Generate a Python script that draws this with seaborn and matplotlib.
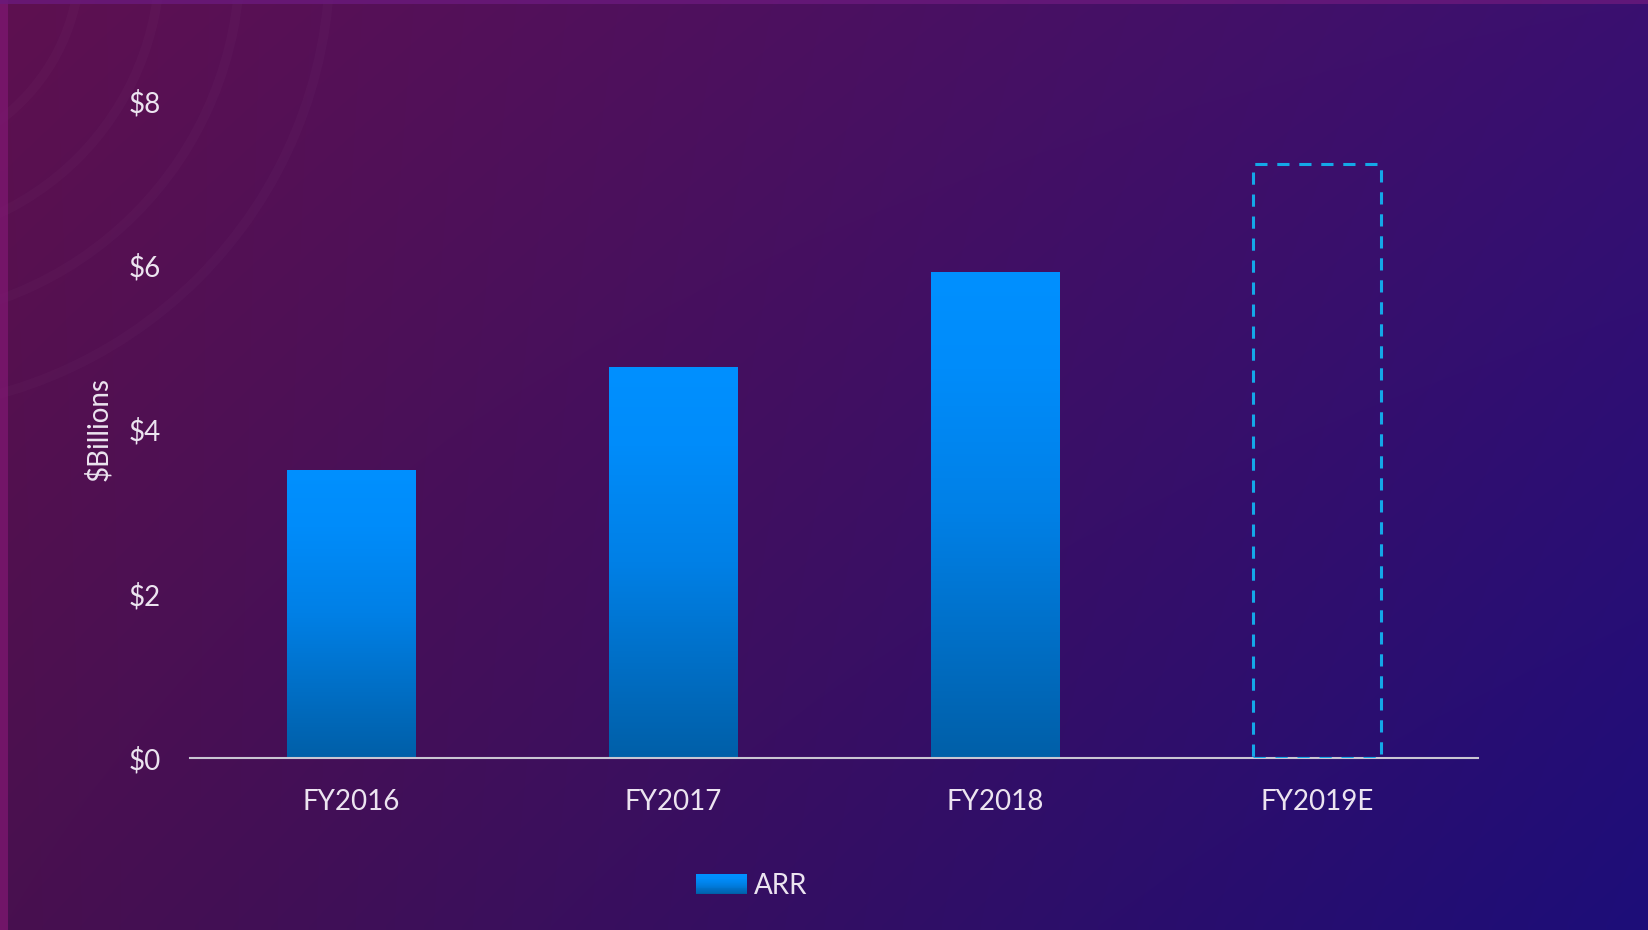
import numpy as np
import pandas as pd
import matplotlib
matplotlib.use("Agg")
import matplotlib.pyplot as plt
import seaborn as sns
from matplotlib.colors import LinearSegmentedColormap, to_rgb
from matplotlib.legend_handler import HandlerBase
from matplotlib.patches import Rectangle, Circle

# ---- data ----
years = ["FY2016", "FY2017", "FY2018", "FY2019E"]
arr_billions = [3.51, 4.76, 5.92, 7.23]
forecast = [False, False, False, True]
y_ticks = [0, 2, 4, 6, 8]
y_tick_labels = ["$0", "$2", "$4", "$6", "$8"]
series_name = "ARR"
y_title = "$Billions"

df = pd.DataFrame({"year": years, "arr": arr_billions, "forecast": forecast})

# ---- style ----
sns.set_theme(style="white")
plt.rcParams["font.family"] = ["Lato", "DejaVu Sans"]
TEXT = "#ece4f0"
W, H = 1649, 930
fig = plt.figure(figsize=(W / 100, H / 100), dpi=100)

# background: diagonal magenta -> indigo blend
tl, tr = np.array(to_rgb("#5e1150")), np.array(to_rgb("#3a1070"))
bl, br = np.array(to_rgb("#48104f")), np.array(to_rgb("#1d0d79"))
gy, gx = np.mgrid[0:1:120j, 0:1:200j]
bg = ((1 - gx) * (1 - gy))[..., None] * tl + (gx * (1 - gy))[..., None] * tr \
    + ((1 - gx) * gy)[..., None] * bl + (gx * gy)[..., None] * br
bg_ax = fig.add_axes([0, 0, 1, 1], zorder=-10)
bg_ax.imshow(bg, extent=[0, W, H, 0], aspect="auto", interpolation="bilinear")
# faint decorative rings in the upper-left corner
for r in [200, 280, 360, 450]:
    bg_ax.add_patch(Circle((-120, -40), r, fill=False, lw=7, ec="white", alpha=0.018))
# thin bright edges along the left and top
bg_ax.add_patch(Rectangle((0, 0), 8, H, color="#7c176f", lw=0, alpha=0.8))
bg_ax.add_patch(Rectangle((0, 0), W, 4, color="#6a1a7c", lw=0, alpha=0.8))
bg_ax.set_xlim(0, W)
bg_ax.set_ylim(H, 0)
bg_ax.set_axis_off()

# ---- bars ----
ax = fig.add_axes([190 / W, 1 - 758 / H, (1478 - 190) / W, (758 - 101) / H])
ax.patch.set_alpha(0)
sns.barplot(data=df, x="year", y="arr", ax=ax, width=0.4, color="#0088f0",
            saturation=1, errorbar=None)

bar_cmap = LinearSegmentedColormap.from_list(
    "bar", [(0, "#005fa8"), (0.5, "#0080e6"), (0.8, "#008cfa"), (1, "#0090ff")])
grad = np.linspace(0, 1, 256).reshape(-1, 1)

for patch, is_fc in zip(ax.patches, df["forecast"]):
    x0, w, h = patch.get_x(), patch.get_width(), patch.get_height()
    if is_fc:
        patch.set_facecolor("none")
        patch.set_edgecolor("#14a8e8")
        patch.set_linewidth(2.2)
        patch.set_linestyle((0, (4, 3.2)))
        patch.set_zorder(4)
    else:
        patch.set_facecolor("none")
        patch.set_linewidth(0)
        im = ax.imshow(grad, cmap=bar_cmap, origin="lower", aspect="auto",
                       extent=[x0, x0 + w, 0, h], zorder=2)
        im.set_clip_path(patch)

ax.set_xlim(-0.5, 3.5)
ax.set_ylim(0, 8)
ax.set_yticks(y_ticks)
ax.set_yticklabels(y_tick_labels)
ax.tick_params(axis="both", length=0, colors=TEXT, labelsize=20)
ax.tick_params(axis="y", pad=21)
ax.tick_params(axis="x", pad=22)
ax.set_xlabel("")
ax.set_ylabel(y_title, color=TEXT, fontsize=20)
ax.yaxis.set_label_coords(-(190 - 112) / (1478 - 190), (758 - 429) / (758 - 101))
for side in ["top", "right", "left"]:
    ax.spines[side].set_visible(False)
ax.spines["bottom"].set_color("#c9c6d3")
ax.spines["bottom"].set_linewidth(1.5)
ax.spines["bottom"].set_zorder(3)
ax.grid(False)


# ---- legend with a gradient swatch ----
class GradientSwatch(HandlerBase):
    def create_artists(self, legend, orig_handle, xdescent, ydescent,
                       width, height, fontsize, trans):
        n = 24
        arts = []
        for i in range(n):
            arts.append(Rectangle((-xdescent, -ydescent + i * height / n),
                                  width, height / n * 1.05,
                                  facecolor=bar_cmap(i / (n - 1)), lw=0,
                                  transform=trans))
        return arts


handle = Rectangle((0, 0), 1, 1)
leg = fig.legend([handle], [series_name], handler_map={Rectangle: GradientSwatch()},
                 loc="center", bbox_to_anchor=(752 / W, 1 - 886 / H),
                 frameon=False, fontsize=20, handlelength=1.85, handleheight=0.72,
                 handletextpad=0.25, borderpad=0)
for t in leg.get_texts():
    t.set_color(TEXT)

fig.savefig("out.png", dpi=100)
